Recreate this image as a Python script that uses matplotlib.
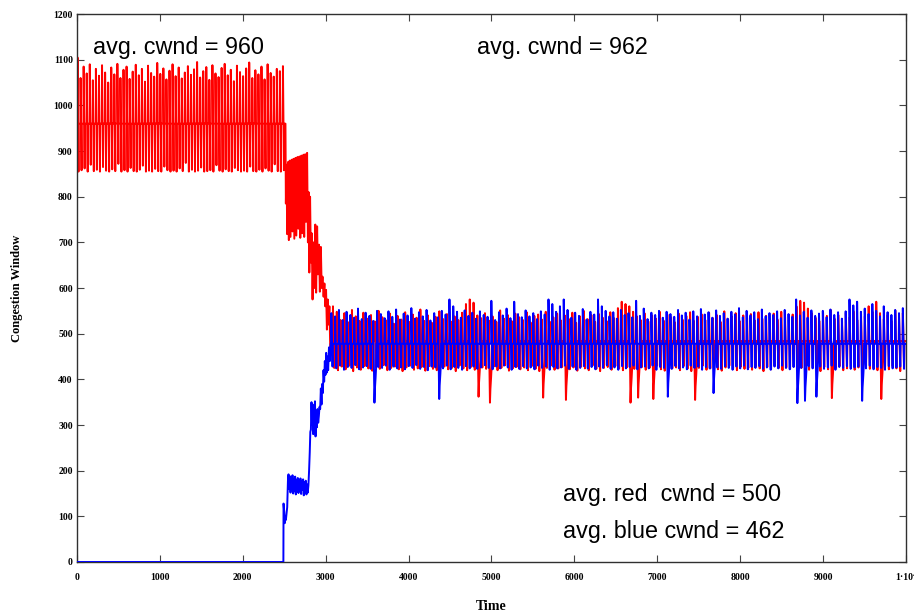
import matplotlib
matplotlib.use("Agg")
import matplotlib.pyplot as plt
from matplotlib.ticker import MultipleLocator, FixedLocator, FixedFormatter

# ---------------- data ----------------
# Phase A: red flow alone (t = 0 .. 2515), one spike per cycle
red_a_start, red_a_end, red_a_mid = 0, 2515, 960
red_a_peaks = [1105, 1060, 1085, 1070, 1090, 1055, 1080, 1065, 1088, 1072,
               1050, 1083, 1068, 1091, 1060, 1078, 1085, 1058, 1074, 1089,
               1066, 1080, 1052, 1087, 1071, 1063, 1093, 1069, 1081, 1057,
               1076, 1090, 1064, 1083, 1059, 1072, 1086, 1067, 1079, 1095,
               1061, 1075, 1084, 1056, 1088, 1070, 1062, 1082, 1091, 1066,
               1078, 1053, 1087, 1073, 1064, 1081, 1094, 1060, 1077, 1068,
               1085, 1057, 1090, 1071, 1063, 1080, 1075, 1086]
red_a_troughs = [855, 858, 862, 855, 870, 856, 859, 855, 865, 857,
                 855, 860, 856, 872, 855, 858, 855, 863, 856, 855,
                 859, 868, 855, 857, 855, 861, 856, 855, 866, 858,
                 855, 857, 855, 862, 856, 874, 855, 859, 855, 857,
                 864, 855, 856, 858, 855, 869, 857, 855, 860, 856,
                 855, 863, 858, 855, 857, 855, 866, 856, 855, 859,
                 855, 862, 857, 855, 871, 856, 855, 858]

# Transition (blue flow joins at t ~ 2490)
red_tr_t = [2515, 2520, 2528, 2536, 2546, 2556, 2566, 2576, 2590, 2600,
            2612, 2622, 2636, 2646, 2660, 2670, 2684, 2694, 2707, 2717,
            2731, 2741, 2753, 2763, 2776, 2786, 2795, 2803, 2812, 2822,
            2832, 2842, 2852, 2862, 2875, 2885, 2897, 2907, 2920, 2930,
            2942, 2952, 2962, 2975, 2985, 2995, 3005, 3015, 3025, 3035,
            3045, 3055]
red_tr_v = [960, 785, 870, 718, 876, 705, 879, 712, 881, 724,
            883, 708, 885, 715, 887, 730, 888, 710, 890, 720,
            892, 712, 893, 745, 896, 700, 810, 634, 800, 656,
            720, 575, 700, 600, 739, 590, 735, 630, 695, 592,
            690, 600, 625, 581, 610, 560, 596, 509, 575, 520,
            560, 470]

blue_tr_t = [0, 2490, 2492, 2500, 2506, 2512, 2520, 2528, 2536, 2545, 2552,
             2560, 2568, 2576, 2584, 2592, 2600, 2608, 2616, 2624, 2632,
             2640, 2648, 2656, 2664, 2672, 2680, 2688, 2696, 2704, 2712,
             2720, 2728, 2736, 2744, 2752, 2760, 2768, 2776, 2784, 2792,
             2800, 2808, 2815, 2822, 2829, 2836, 2843, 2850, 2857, 2864,
             2871, 2878, 2886, 2894, 2902, 2910, 2918, 2926, 2934, 2942,
             2950, 2958, 2966, 2974, 2982, 2990, 2998, 3006, 3014, 3022,
             3030, 3040, 3050]
blue_tr_v = [0, 0, 128, 110, 85, 100, 92, 106, 120, 178, 192,
             160, 188, 152, 185, 158, 190, 150, 182, 155, 187,
             148, 180, 160, 184, 151, 178, 157, 183, 149, 176,
             158, 181, 146, 175, 155, 178, 148, 170, 152, 168,
             200, 240, 285, 290, 350, 300, 345, 280, 340, 290,
             352, 275, 330, 295, 335, 305, 320, 340, 335, 380,
             345, 390, 370, 420, 395, 440, 410, 458, 415, 450,
             420, 470, 440]

# Phase C: both flows share the link (until t = 10000)
red_c_start, blue_c_start, shared_end = 3080, 3060, 10000
red_c_mid, blue_c_mid = 484, 478
red_c_peaks = [560, 548, 530, 545, 525, 552, 538, 528, 546, 533,
               541, 527, 550, 536, 529, 544, 522, 539, 531, 547,
               526, 542, 535, 553, 528, 540, 524, 537, 549, 532,
               543, 527, 538, 530, 546, 565, 575, 568, 540, 534,
               545, 529, 538, 526, 551, 533, 541, 528, 544, 536,
               530, 547, 525, 539, 542, 531, 548, 527, 536, 544,
               529, 540, 533, 546, 524, 538, 550, 532, 541, 526,
               543, 535, 528, 547, 534, 556, 570, 565, 560, 548,
               538, 530, 545, 527, 540, 533, 548, 529, 542, 536,
               525, 544, 531, 539, 547, 528, 537, 543, 530, 546,
               534, 541, 526, 549, 532, 538, 545, 528, 540, 535,
               543, 529, 547, 533, 539, 526, 544, 531, 548, 537,
               530, 542, 560, 572, 568, 555, 545, 535, 528, 546,
               539, 552, 533, 541, 527, 545, 536, 549, 530, 543,
               538, 560, 548, 570, 545, 532, 541, 528, 551, 536,
               545]
red_c_troughs = [425, 420, 428, 422, 430, 418, 426, 421, 429, 424,
                 419, 427, 423, 431, 420, 425, 428, 422, 418, 426,
                 430, 421, 424, 427, 419, 429, 423, 420, 426, 428,
                 422, 425, 418, 430, 424, 420, 427, 421, 362, 426,
                 423, 349, 428, 420, 425, 431, 419, 424, 427, 422,
                 426, 420, 429, 423, 418, 360, 425, 430, 421, 424,
                 427, 355, 422, 426, 419, 428, 424, 420, 430, 423,
                 418, 425, 427, 421, 429, 424, 420, 426, 349, 423,
                 360, 427, 421, 425, 357, 430, 422, 419, 428, 424,
                 426, 420, 429, 423, 418, 355, 425, 430, 421, 424,
                 427, 422, 419, 426, 430, 424, 420, 428, 423, 425,
                 421, 429, 424, 418, 427, 422, 430, 425, 420, 426,
                 423, 428, 419, 425, 430, 421, 426, 424, 418, 427,
                 422, 359, 425, 429, 420, 424, 428, 421, 426, 419,
                 430, 423, 425, 420, 357, 427, 422, 429, 424, 418,
                 426]
blue_c_peaks = [545, 538, 552, 530, 548, 541, 535, 555, 532, 546,
                539, 528, 550, 543, 534, 549, 537, 553, 531, 544,
                540, 556, 533, 547, 538, 552, 529, 545, 536, 550,
                542, 575, 560, 548, 535, 551, 539, 546, 533, 549,
                541, 537, 572, 530, 547, 540, 555, 534, 570, 543,
                536, 551, 538, 545, 532, 549, 542, 575, 565, 548,
                560, 575, 552, 535, 546, 539, 554, 531, 548, 542,
                575, 560, 550, 538, 547, 533, 552, 541, 545, 536,
                572, 539, 555, 532, 546, 541, 550, 535, 548, 543,
                537, 552, 540, 546, 531, 549, 538, 554, 542, 547,
                535, 551, 539, 545, 533, 548, 542, 556, 536, 550,
                540, 547, 532, 553, 538, 545, 541, 549, 534, 552,
                543, 537, 575, 540, 548, 535, 551, 539, 544, 550,
                536, 553, 541, 547, 533, 549, 575, 562, 570, 548,
                555, 543, 565, 550, 538, 560, 547, 541, 552, 545,
                556]
blue_c_troughs = [428, 424, 430, 421, 427, 425, 431, 422, 426, 429,
                  423, 349, 427, 425, 430, 421, 428, 424, 426, 422,
                  429, 425, 431, 423, 427, 420, 428, 426, 357, 424,
                  430, 422, 427, 425, 421, 429, 424, 428, 423, 426,
                  431, 425, 422, 428, 424, 430, 426, 421, 427, 423,
                  429, 424, 426, 422, 430, 425, 428, 421, 427, 424,
                  426, 430, 423, 428, 421, 425, 429, 424, 427, 422,
                  428, 425, 431, 423, 426, 421, 429, 424, 427, 430,
                  422, 426, 428, 424, 430, 421, 427, 425, 362, 423,
                  429, 424, 426, 422, 430, 425, 428, 421, 427, 424,
                  370, 426, 423, 429, 425, 421, 428, 424, 430, 422,
                  427, 425, 429, 423, 426, 421, 428, 424, 430, 425,
                  422, 427, 348, 425, 353, 429, 424, 362, 428, 423,
                  426, 430, 421, 427, 425, 429, 423, 426, 428, 353,
                  424, 430, 422, 427, 425, 421, 429, 424, 426, 428,
                  423]

x_ticks = [0, 1000, 2000, 3000, 4000, 5000, 6000, 7000, 8000, 9000, 10000]
x_tick_labels = ["0", "1000", "2000", "3000", "4000", "5000", "6000",
                 "7000", "8000", "9000", "1·10⁴"]
notes = ["avg. cwnd = 960", "avg. cwnd = 962",
         "avg. red  cwnd = 500", "avg. blue cwnd = 462"]


def cycle_trace(t0, t1, mid, peaks, troughs):
    """Lay the read peaks/troughs out one per cycle between t0 and t1."""
    n = min(len(peaks), len(troughs))
    per = (t1 - t0) / n
    ts, vs = [], []
    for i in range(n):
        s = t0 + i * per
        pk, tr = peaks[i], troughs[i]
        ts += [s, s + 0.12 * per, s + 0.18 * per, s + 0.5 * per]
        vs += [mid, mid, pk, tr]
        if tr < 400:  # deep drop followed by slow recovery
            ts += [s + 0.62 * per, s + 0.8 * per, s + 0.95 * per]
            vs += [tr + 30, tr + 55, tr + 80]
        else:
            ts += [s + 0.58 * per, s + 0.85 * per]
            vs += [mid, mid]
    return ts, vs


# ---------------- build traces ----------------
ra_t, ra_v = cycle_trace(red_a_start, red_a_end, red_a_mid, red_a_peaks, red_a_troughs)
rc_t, rc_v = cycle_trace(red_c_start, shared_end, red_c_mid, red_c_peaks, red_c_troughs)
bc_t, bc_v = cycle_trace(blue_c_start, shared_end, blue_c_mid, blue_c_peaks, blue_c_troughs)

red_t = [0] + ra_t + red_tr_t + rc_t
red_v = [0] + ra_v + red_tr_v + rc_v
blue_t = blue_tr_t + bc_t
blue_v = blue_tr_v + bc_v

# ---------------- draw ----------------
fig = plt.figure(figsize=(9.14, 6.12), dpi=100)
ax = fig.add_axes([0.0842, 0.0817, 0.9070, 0.8953])

ax.plot(red_t, red_v, color="#ff0000", lw=1.4, zorder=2)
ax.plot(blue_t, blue_v, color="#0000ff", lw=1.4, zorder=3)

ax.set_xlim(0, 10000)
ax.set_ylim(0, 1200)
ax.xaxis.set_major_locator(FixedLocator(x_ticks))
ax.xaxis.set_major_formatter(FixedFormatter(x_tick_labels))
ax.yaxis.set_major_locator(MultipleLocator(100))

ax.tick_params(direction="in", length=5, width=0.8, color="#444444",
               top=True, right=True)
ax.tick_params(axis="x", pad=8)
ax.tick_params(axis="y", pad=3)
for lab in ax.get_xticklabels() + ax.get_yticklabels():
    lab.set_fontfamily(["Liberation Serif", "DejaVu Serif"])
    lab.set_fontweight("bold")
    lab.set_fontsize(7)
for sp in ax.spines.values():
    sp.set_color("#303030")
    sp.set_linewidth(1.0)

ax.set_xlabel("Time", fontfamily="Liberation Serif", fontweight="bold",
              fontsize=10, labelpad=13)
ax.set_ylabel("Congestion Window", fontfamily="Liberation Serif",
              fontweight="bold", fontsize=9, labelpad=22)

note_font = dict(family="Liberation Sans", size=16.8, color="black", va="center")
ax.text(190, 1127, notes[0], **note_font)
ax.text(4830, 1127, notes[1], **note_font)
ax.text(5860, 147, notes[2], **note_font)
ax.text(5860, 66, notes[3], **note_font)

fig.savefig("out.png", dpi=100)
